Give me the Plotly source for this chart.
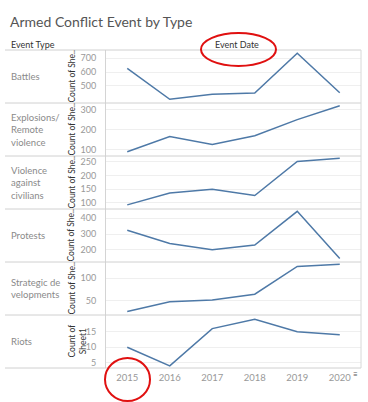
import plotly.graph_objects as go
from plotly.subplots import make_subplots

years = [2015, 2016, 2017, 2018, 2019, 2020]
event_types = ["Battles", "Explosions/<br>Remote<br>violence", "Violence<br>against<br>civilians",
               "Protests", "Strategic de<br>velopments", "Riots"]
battles = [627, 404, 440, 449, 736, 451]
explosions = [90, 166, 127, 170, 251, 320]
violence = [93, 136, 150, 127, 251, 263]
protests = [324, 240, 200, 230, 444, 145]
strategic = [25, 47, 51, 64, 127, 132]
riots = [10, 4, 16, 19, 15, 14]
series = [battles, explosions, violence, protests, strategic, riots]
y_ranges = [[377, 760], [69, 334], [78, 271], [122, 459], [17, 137], [3.3, 20.4]]
y_tickvals = [[500, 600, 700], [100, 200, 300], [100, 150, 200, 250],
              [200, 300, 400], [50, 100], [5, 10, 15]]
y_titles = ["Count of She..", "Count of She..", "Count of She..", "Count of She..",
            "Count of She..", "Count of<br>Sheet1"]

W, H = 368, 402
L, R, T, B = 106, 7, 50, 34
PW, PH = W - L - R, H - T - B


def px(x):
    return (x - L) / PW


def py(y):
    return (H - B - y) / PH


fig = make_subplots(rows=6, cols=1, shared_xaxes=True, vertical_spacing=0)
FONT = "Lato"
for i, vals in enumerate(series):
    r = i + 1
    fig.add_trace(go.Scatter(x=years, y=vals, mode="lines",
                             line=dict(color="#4e79a7", width=1.5),
                             showlegend=False, hoverinfo="x+y"), row=r, col=1)
    fig.update_yaxes(range=y_ranges[i], tickvals=y_tickvals[i], showgrid=True,
                     gridcolor="#efefef", gridwidth=1, zeroline=False,
                     showline=True, linecolor="#d4d4d4", linewidth=1,
                     ticks="", ticklabelstandoff=7,
                     tickfont=dict(family=FONT, size=9, color="#999999"),
                     row=r, col=1)
    fig.update_xaxes(range=[2014.5, 2020.5], showgrid=False, zeroline=False,
                     showline=False, ticks="", tickvals=years,
                     row=r, col=1)
    top = i * PH / 6 + T
    mid = top + PH / 12
    # row label
    fig.add_annotation(text=event_types[i], xref="paper", yref="paper",
                       x=px(9), y=py(mid), xanchor="left", yanchor="middle",
                       align="left", showarrow=False,
                       font=dict(family=FONT, size=9.5, color="#8a8a8a"))
    # y axis title
    fig.add_annotation(text=y_titles[i], xref="paper", yref="paper",
                       x=px(77 if i == 5 else 71), y=py(mid),
                       xanchor="center", yanchor="middle",
                       textangle=-90, showarrow=False,
                       font=dict(family=FONT, size=8.5, color="#333333"))
    # separator line
    fig.add_shape(type="line", xref="paper", yref="paper",
                  x0=px(5), x1=1, y0=py(top), y1=py(top),
                  line=dict(color="#d0d0d0", width=1))

fig.add_shape(type="line", xref="paper", yref="paper",
              x0=px(5), x1=1, y0=0, y1=0, line=dict(color="#d0d0d0", width=1))
fig.add_shape(type="line", xref="paper", yref="paper",
              x0=1, x1=1, y0=0, y1=1, line=dict(color="#d8d8d8", width=1))

fig.update_xaxes(showticklabels=True, ticklabelstandoff=2,
                 tickfont=dict(family=FONT, size=9.5, color="#999999"),
                 row=6, col=1)

# headers
fig.add_annotation(text="Event Type", xref="paper", yref="paper", x=px(9), y=py(44),
                   xanchor="left", yanchor="middle", showarrow=False,
                   font=dict(family=FONT, size=9, color="#333333"))
fig.add_annotation(text="Event Date", xref="paper", yref="paper", x=px(237), y=py(44),
                   xanchor="center", yanchor="middle", showarrow=False,
                   font=dict(family=FONT, size=9, color="#333333"))
fig.add_annotation(text="≡", xref="paper", yref="paper", x=px(355), y=py(374),
                   xanchor="center", yanchor="middle", showarrow=False,
                   font=dict(family=FONT, size=8, color="#555555"))

# red hand-drawn marks
fig.add_shape(type="circle", xref="paper", yref="paper",
              x0=px(201), x1=px(276), y0=py(66), y1=py(33),
              line=dict(color="#e01010", width=2))
fig.add_shape(type="circle", xref="paper", yref="paper",
              x0=px(105), x1=px(150), y0=py(401), y1=py(358),
              line=dict(color="#e01010", width=2))

fig.update_layout(
    width=W, height=H,
    margin=dict(l=L, r=R, t=T, b=B),
    paper_bgcolor="white", plot_bgcolor="white",
    title=dict(text="Armed Conflict Event by Type", x=10 / W, xanchor="left",
               y=1 - 22 / H, yanchor="middle",
               font=dict(family=FONT, size=14, color="#555555")),
)

fig.write_html("out.html", config={"displayModeBar": False},
               post_script="document.body.style.margin='0';")
